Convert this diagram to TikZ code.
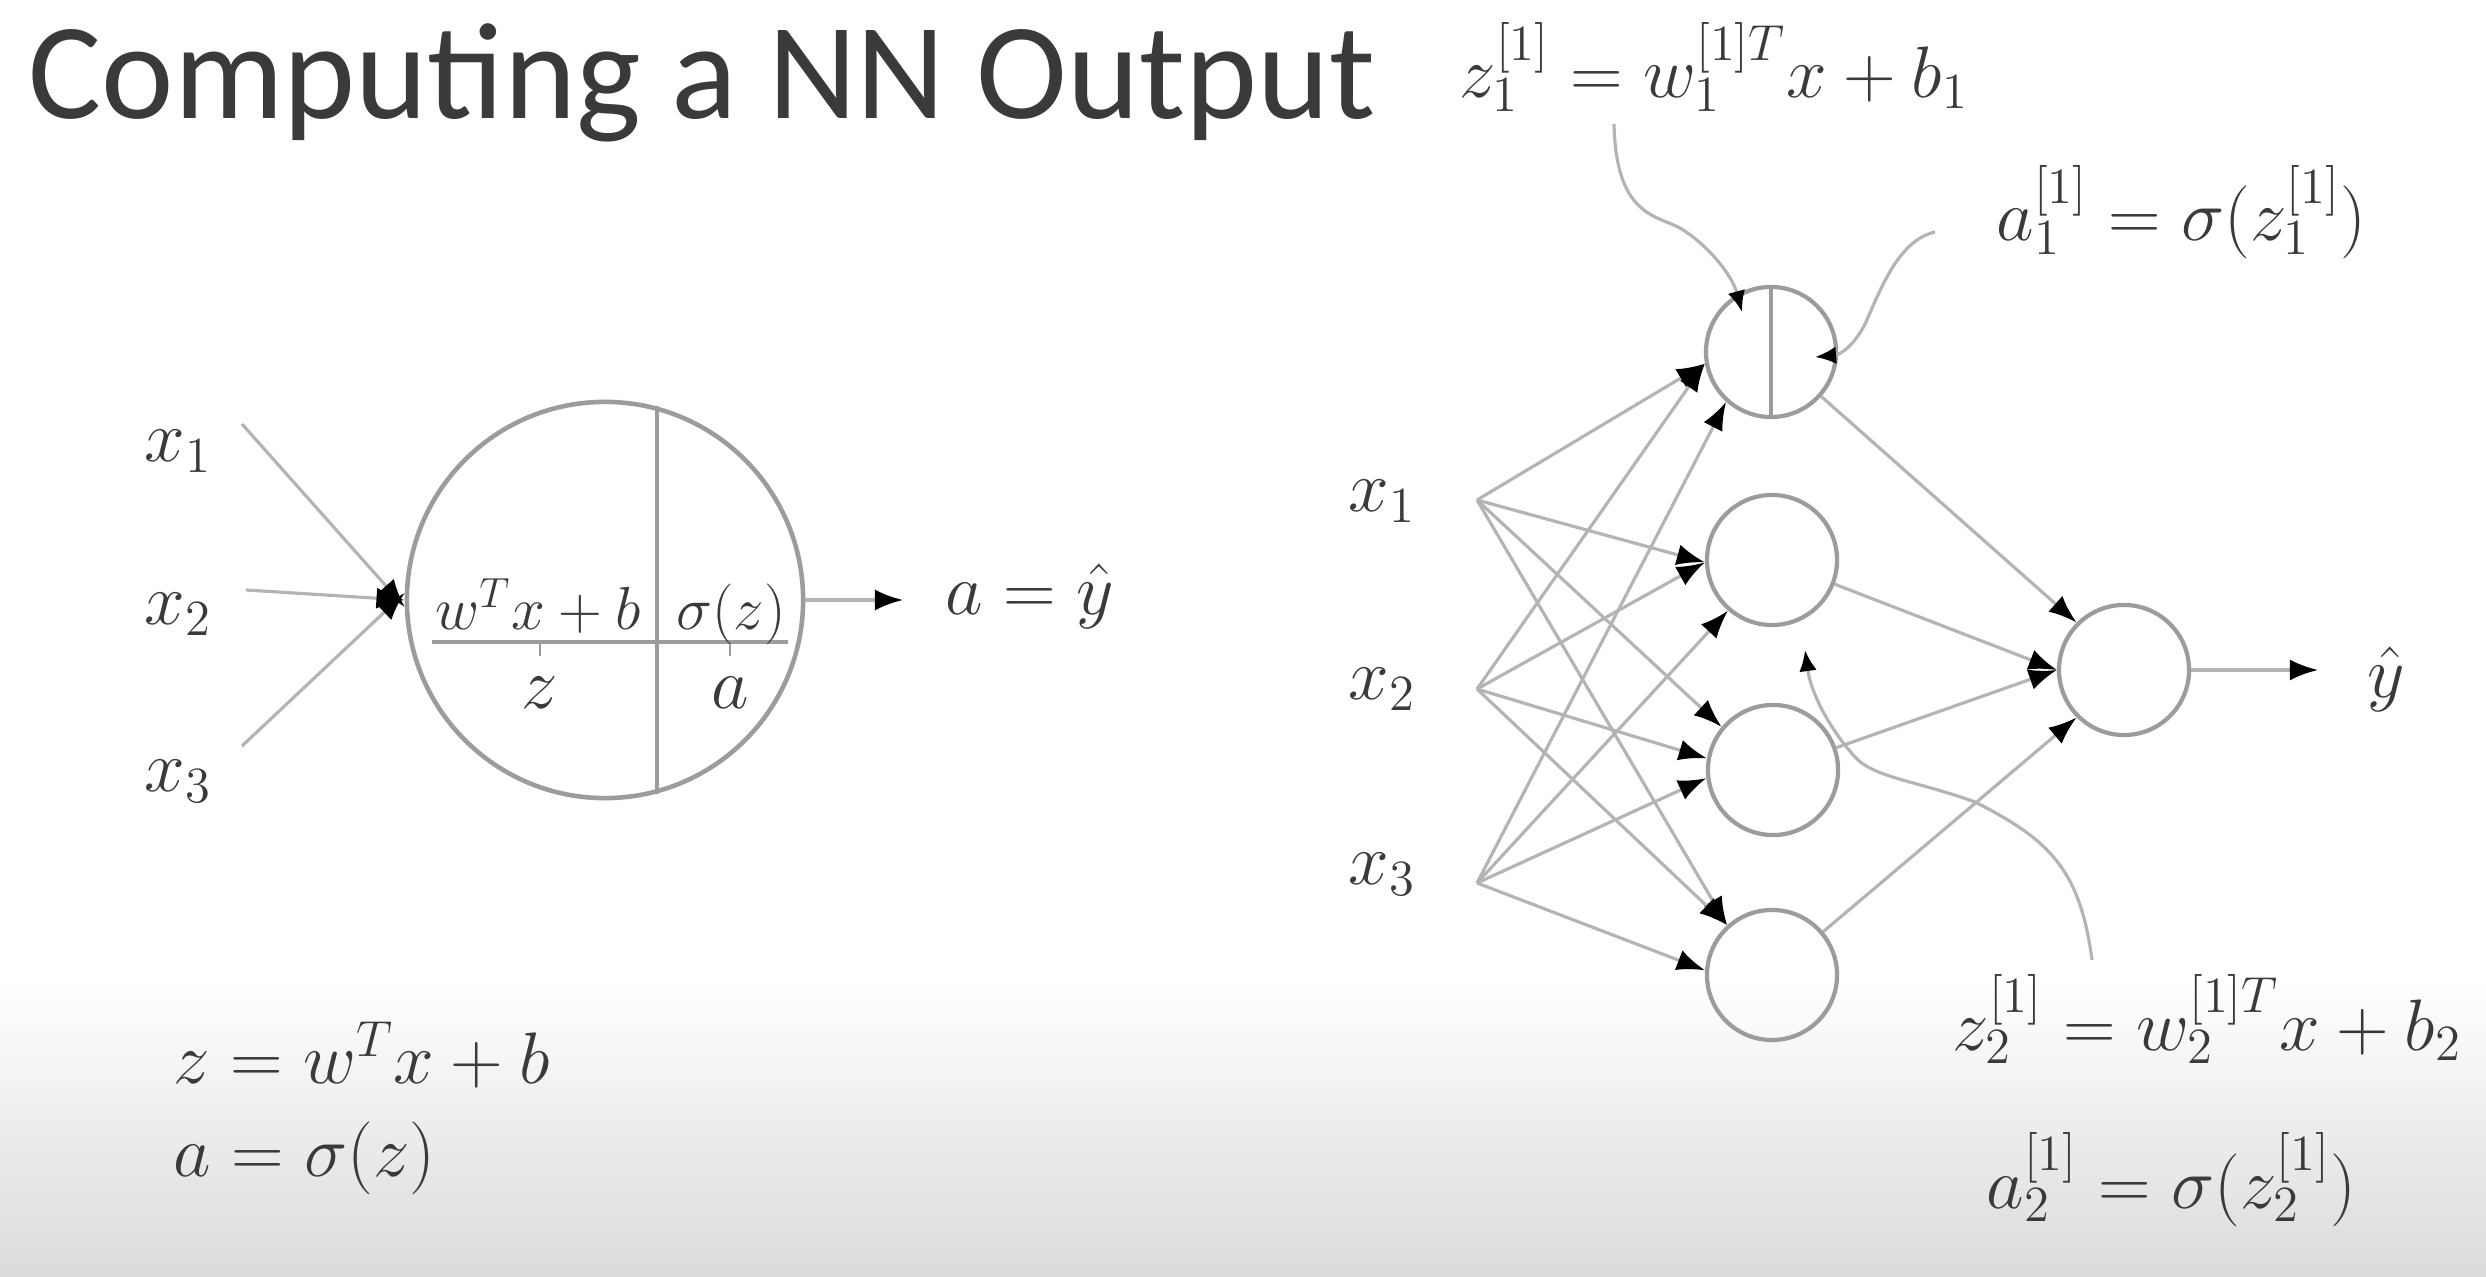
\documentclass[tikz,border=0pt]{standalone}
\usepackage{fontspec}
\newfontfamily\titlefont{Carlito}
\usetikzlibrary{arrows.meta}
\definecolor{txt}{HTML}{3A3A3A}
\definecolor{lgray}{HTML}{B4B4B4}
\definecolor{cgray}{HTML}{9C9C9C}
\definecolor{bggray}{HTML}{DCDADA}
\begin{document}
\begin{tikzpicture}[x=0.01cm,y=-0.01cm,
  lbl/.style={text=txt, font=\fontsize{21}{25}\selectfont, inner sep=0pt},
  rlbl/.style={text=txt, font=\fontsize{22}{26}\selectfont, inner sep=0pt},
  conn/.style={draw=lgray, line width=0.9pt},
  arr/.style={conn, -{Latex[length=8pt,width=6pt,color=black]}},
  callarr/.style={conn, -{Latex[length=6pt,width=5pt,color=black]}},
  neuron/.style={circle, draw=cgray, line width=1.2pt, minimum size=1.3cm, inner sep=0pt}
]
\fill[white] (0,0) rectangle (2486,1277);
\shade[top color=white, bottom color=bggray] (0,980) rectangle (2486,1277);
\useasboundingbox (0,0) rectangle (2486,1277);

% title
\node[anchor=base west, inner sep=0pt, text=txt, font=\titlefont\fontsize{39}{46}\selectfont] (title) at (28,119) {Computing a NN Output};

% ---------- left: single neuron ----------
\node[neuron, minimum size=3.96cm, line width=1.3pt] (L) at (605,600) {};
\draw[draw=cgray, line width=1.1pt] (L.75) -- (L.-75);
\draw[draw=cgray, line width=1pt] (432,642) -- (788,642);
\draw[draw=cgray, line width=0.8pt] (540,642) -- (540,656);
\draw[draw=cgray, line width=0.8pt] (730,642) -- (730,656);
\node[lbl, font=\fontsize{17.28}{21}\selectfont, anchor=base] (wx) at (538,630) {$w^Tx+b$};
\node[lbl, font=\fontsize{17.28}{21}\selectfont, anchor=base] (sz) at (731,630) {$\sigma(z)$};
\node[lbl, anchor=base] (zl) at (540,709) {$z$};
\node[lbl, anchor=base] (al) at (730,709) {$a$};

\node[lbl, anchor=base] (lx1) at (178,462) {$x_1$};
\node[lbl, anchor=base] (lx2) at (178,625) {$x_2$};
\node[lbl, anchor=base] (lx3) at (178,792) {$x_3$};
\coordinate (li1) at (242,424);
\coordinate (li2) at (246,590);
\coordinate (li3) at (242,746);
\draw[arr] (li1) -- (L.182);
\draw[arr] (li2) -- (L.180);
\draw[arr] (li3) -- (L.178);
\coordinate (lo) at (903,600);
\draw[arr] (L.east) -- (lo);
\node[lbl, anchor=base west] (ay) at (945,615) {$a=\hat{y}$};

\node[lbl, anchor=base west] (eq1) at (173,1083) {$z=w^Tx+b$};
\node[lbl, anchor=base west] (eq2) at (173,1176) {$a=\sigma(z)$};

% ---------- right: network ----------
\node[lbl, anchor=base] (rx1) at (1382,512) {$x_1$};
\node[lbl, anchor=base] (rx2) at (1382,700) {$x_2$};
\node[lbl, anchor=base] (rx3) at (1382,885) {$x_3$};
\coordinate (ri1) at (1477,500);
\coordinate (ri2) at (1477,689);
\coordinate (ri3) at (1477,883);

\node[neuron] (h1) at (1771,352) {};
\node[neuron] (h2) at (1772,560) {};
\node[neuron] (h3) at (1773,770) {};
\node[neuron] (h4) at (1772,975) {};
\node[neuron] (o) at (2124,670) {};
\draw[draw=cgray, line width=1.1pt] (h1.north) -- (h1.south);

\draw[arr] (ri1) -- (h1.190);
\draw[arr] (ri2) -- (h1.190);
\draw[arr] (ri3) -- (h1.228);
\draw[arr] (ri1) -- (h2.182);
\draw[arr] (ri2) -- (h2.182);
\draw[arr] (ri3) -- (h2.229);
\draw[arr] (ri1) -- (h3.140);
\draw[arr] (ri2) -- (h3.170);
\draw[arr] (ri3) -- (h3.187);
\draw[arr] (ri1) -- (h4.132);
\draw[arr] (ri2) -- (h4.132);
\draw[arr] (ri3) -- (h4.176);

\draw[arr] (h1) -- (o.135);
\draw[arr] (h2) -- (o.180);
\draw[arr] (h3) -- (o.180);
\draw[arr] (h4) -- (o.225);
\coordinate (oo) at (2318,670);
\draw[arr] (o.east) -- (oo);
\node[rlbl, anchor=base] (yh) at (2386,698) {$\hat{y}$};

% labels and callouts
\node[rlbl, anchor=base west] (z1) at (1459,98) {$z_1^{[1]}=w_1^{[1]T}x+b_1$};
\node[rlbl, anchor=base west] (a1) at (1996,241) {$a_1^{[1]}=\sigma(z_1^{[1]})$};
\node[rlbl, anchor=base west] (z2) at (1952,1050) {$z_2^{[1]}=w_2^{[1]T}x+b_2$};
\node[rlbl, anchor=base west] (a2) at (1986,1208) {$a_2^{[1]}=\sigma(z_2^{[1]})$};

\coordinate (c1a) at (1614,124);
\coordinate (c1b) at (1742,312);
\draw[callarr] (c1a) .. controls (1616,215) and (1655,215) .. (1680,228) .. controls (1708,245) and (1732,275) .. (c1b);
\coordinate (c2a) at (1935,232);
\coordinate (c2b) at (1815,357);
\draw[callarr] (c2a) .. controls (1900,240) and (1882,285) .. (1866,322) .. controls (1855,345) and (1840,355) .. (c2b);
\coordinate (c3a) at (2092,960);
\coordinate (c3b) at (1805,650);
\draw[callarr] (c3a) .. controls (2080,870) and (2050,840) .. (1975,802) .. controls (1920,782) and (1878,778) .. (1858,760) .. controls (1838,740) and (1812,700) .. (c3b);
\end{tikzpicture}
\end{document}
